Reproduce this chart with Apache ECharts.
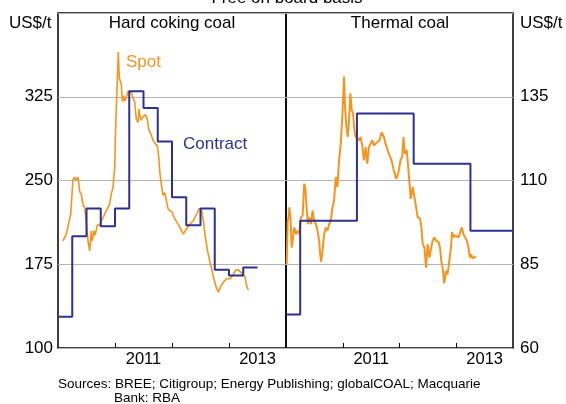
<!DOCTYPE html>
<html>
<head>
<meta charset="utf-8">
<script src="https://cdn.jsdelivr.net/npm/echarts@6/dist/echarts.min.js"></script>
<style>
html,body{margin:0;padding:0;background:#fff;}
#chart{width:566px;height:404px;}
</style>
</head>
<body>
<div id="chart"></div>
<script>
// ---- Data (dates in decimal years) ----
var cokingSpotDates = [2010.088,2010.146,2010.223,2010.263,2010.293,2010.321,2010.351,2010.381,2010.409,2010.439,2010.468,2010.496,2010.526,2010.556,2010.584,2010.602,2010.632,2010.654,2010.689,2010.732,2010.760,2010.819,2010.847,2010.877,2010.907,2010.935,2010.965,2010.995,2011.005,2011.023,2011.040,2011.058,2011.075,2011.093,2011.111,2011.128,2011.153,2011.170,2011.198,2011.228,2011.258,2011.286,2011.316,2011.346,2011.374,2011.404,2011.421,2011.451,2011.491,2011.532,2011.567,2011.591,2011.626,2011.667,2011.707,2011.742,2011.767,2011.789,2011.812,2011.842,2011.872,2011.900,2011.930,2011.960,2012.000,2012.035,2012.082,2012.140,2012.198,2012.258,2012.316,2012.374,2012.433,2012.479,2012.521,2012.549,2012.579,2012.619,2012.667,2012.725,2012.772,2012.812,2012.854,2012.900,2012.960,2013.018,2013.065,2013.123,2013.163,2013.223,2013.251,2013.281,2013.311,2013.339];
var cokingSpotValues = [196,202,220,251,253,250,253,240,238,228,226,213,196,187,205,196,205,201,210,210,211,220,223,226,229,238,244,262,286,315,339,365,342,342,336,321,326,321,324,330,330,329,324,320,305,302,314,304,307,309,305,296,292,286,283,281,271,256,247,237,239,232,225,223,222,217,213,208,202,207,211,214,220,225,223,214,202,188,177,164,155,150,155,159,162,162,165,170,170,167,168,164,155,152];

var cokingContractDates = [2010,2010.25,2010.5,2010.75,2011,2011.25,2011.5,2011.75,2012,2012.25,2012.5,2012.75,2013,2013.25,2013.5];
var cokingContractValues = [128,200,225,209,225,330,315,285,235,210,225,170,165,172,172];

var thermalSpotDates = [2010.012,2010.030,2010.047,2010.058,2010.082,2010.100,2010.118,2010.146,2010.175,2010.205,2010.233,2010.263,2010.293,2010.321,2010.339,2010.363,2010.386,2010.409,2010.439,2010.468,2010.496,2010.526,2010.556,2010.584,2010.602,2010.619,2010.644,2010.672,2010.702,2010.732,2010.760,2010.789,2010.819,2010.847,2010.877,2010.905,2010.935,2010.965,2010.995,2011.023,2011.040,2011.065,2011.088,2011.111,2011.135,2011.158,2011.181,2011.205,2011.228,2011.258,2011.286,2011.316,2011.346,2011.374,2011.404,2011.433,2011.461,2011.491,2011.521,2011.549,2011.579,2011.609,2011.649,2011.684,2011.725,2011.754,2011.812,2011.860,2011.900,2011.942,2011.977,2012.018,2012.047,2012.070,2012.093,2012.128,2012.163,2012.198,2012.233,2012.268,2012.293,2012.321,2012.363,2012.386,2012.409,2012.439,2012.468,2012.496,2012.526,2012.556,2012.584,2012.614,2012.644,2012.689,2012.714,2012.737,2012.760,2012.789,2012.819,2012.847,2012.877,2012.907,2012.925,2012.953,2012.982,2013.012,2013.040,2013.070,2013.098,2013.126,2013.158,2013.188,2013.216,2013.240,2013.263,2013.286,2013.316,2013.346];
var thermalSpotValues = [85,98,99,102,98,90,92,96,94,95,94,99,99.6,109,108,102,97,99,97,101,98,97,95,92,88,85.7,89,94,96,95,97,98,102,104,111,108,116,121,130,141,132,126,123,128,136,131,130,125,123,123,122,123,120,116,120,115,120,121,122,120.4,121,121,122,124.4,123,121,118,116,113,110.5,112,116,117,123,118,119,112,104.5,108,108,102,99,98.6,96,91,90,84,91,87,89.7,92,93,92,91.6,90,86,84,79.3,83,82,86,90,94.6,93,93.6,94,93,94.6,96,94,93.6,92,90,87,88,86.7,87,87.4];

var thermalContractDates = [2010,2010.25,2011.25,2012.25,2013.25,2014];
var thermalContractValues = [70,98,130,115,95,95];

var cokingTicks = [100,175,250,325,400];
var thermalTicks = [60,85,110,135,160];
var yearTicks = [2011,2012,2013];
var yearLabels = [2011.5,2013.5];

function pairs(xs, ys){ return xs.map(function(x,i){ return [x, ys[i]]; }); }

var ORANGE = '#f7941d';
var NAVY = '#2e3192';
var FONT = 'Liberation Sans, Arial, sans-serif';

var chart = echarts.init(document.getElementById('chart'), null, {renderer:'canvas'});

function xAxisFor(gi){
  return {
    type:'value', gridIndex:gi, min:2010, max:2014,
    axisLine:{show:false},
    splitLine:{show:false},
    axisTick:{show:true, inside:true, length:5, customValues:yearTicks, lineStyle:{color:'#000', width:1}},
    axisLabel:{show:true, customValues:yearLabels, margin:3, color:'#000', fontSize:16.5, fontFamily:FONT,
      formatter:function(v){ return String(Math.floor(v)); }}
  };
}

var option = {
  animation:false,
  backgroundColor:'#fff',
  grid:[
    {left:58, top:13, width:228, height:335, show:true, borderColor:'#000', borderWidth:1.5, backgroundColor:'transparent'},
    {left:286, top:13, width:227, height:335, show:true, borderColor:'#000', borderWidth:1.5, backgroundColor:'transparent'}
  ],
  xAxis:[xAxisFor(0), xAxisFor(1)],
  yAxis:[
    {type:'value', gridIndex:0, position:'left', min:cokingTicks[0], max:cokingTicks[cokingTicks.length-1], interval:75,
     axisLine:{show:false}, axisTick:{show:false},
     splitLine:{show:true, lineStyle:{color:'#b5b5b5', width:1}},
     axisLabel:{showMaxLabel:false, margin:5, color:'#000', fontSize:17, fontFamily:FONT}},
    {type:'value', gridIndex:1, position:'right', min:thermalTicks[0], max:thermalTicks[thermalTicks.length-1], interval:25,
     axisLine:{show:false}, axisTick:{show:false},
     splitLine:{show:true, lineStyle:{color:'#b5b5b5', width:1}},
     axisLabel:{showMaxLabel:false, margin:7, color:'#000', fontSize:17, fontFamily:FONT}}
  ],
  series:[
    {type:'line', xAxisIndex:0, yAxisIndex:0, data:pairs(cokingSpotDates, cokingSpotValues),
     showSymbol:false, lineStyle:{color:ORANGE, width:1.6}, z:3},
    {type:'line', xAxisIndex:0, yAxisIndex:0, data:pairs(cokingContractDates, cokingContractValues), step:'end',
     showSymbol:false, lineStyle:{color:NAVY, width:2}, z:4},
    {type:'line', xAxisIndex:1, yAxisIndex:1, data:pairs(thermalSpotDates, thermalSpotValues),
     showSymbol:false, lineStyle:{color:ORANGE, width:2}, z:3},
    {type:'line', xAxisIndex:1, yAxisIndex:1, data:pairs(thermalContractDates, thermalContractValues), step:'end',
     showSymbol:false, lineStyle:{color:NAVY, width:2}, z:4}
  ],
  graphic:[
    {type:'text', x:287, y:-2, style:{text:'Free on board basis', fill:'#000', font:'17px '+FONT, textAlign:'center', textVerticalAlign:'middle'}},
    {type:'text', x:9, y:23, style:{text:'US$/t', fill:'#000', font:'17px '+FONT, textVerticalAlign:'middle'}},
    {type:'text', x:520, y:23, style:{text:'US$/t', fill:'#000', font:'17px '+FONT, textVerticalAlign:'middle'}},
    {type:'text', x:172, y:23, style:{text:'Hard coking coal', fill:'#000', font:'17px '+FONT, textAlign:'center', textVerticalAlign:'middle'}},
    {type:'text', x:400, y:23, style:{text:'Thermal coal', fill:'#000', font:'17px '+FONT, textAlign:'center', textVerticalAlign:'middle'}},
    {type:'text', x:126, y:62, style:{text:'Spot', fill:ORANGE, font:'17px '+FONT, textVerticalAlign:'middle'}},
    {type:'text', x:183, y:144, style:{text:'Contract', fill:NAVY, font:'17px '+FONT, textVerticalAlign:'middle'}},
    {type:'text', x:58, y:384, style:{text:'Sources: BREE; Citigroup; Energy Publishing; globalCOAL; Macquarie', fill:'#000', font:'13.5px '+FONT, textVerticalAlign:'middle'}},
    {type:'text', x:114, y:398, style:{text:'Bank: RBA', fill:'#000', font:'13.5px '+FONT, textVerticalAlign:'middle'}}
  ]
};
chart.setOption(option);
</script>
</body>
</html>
